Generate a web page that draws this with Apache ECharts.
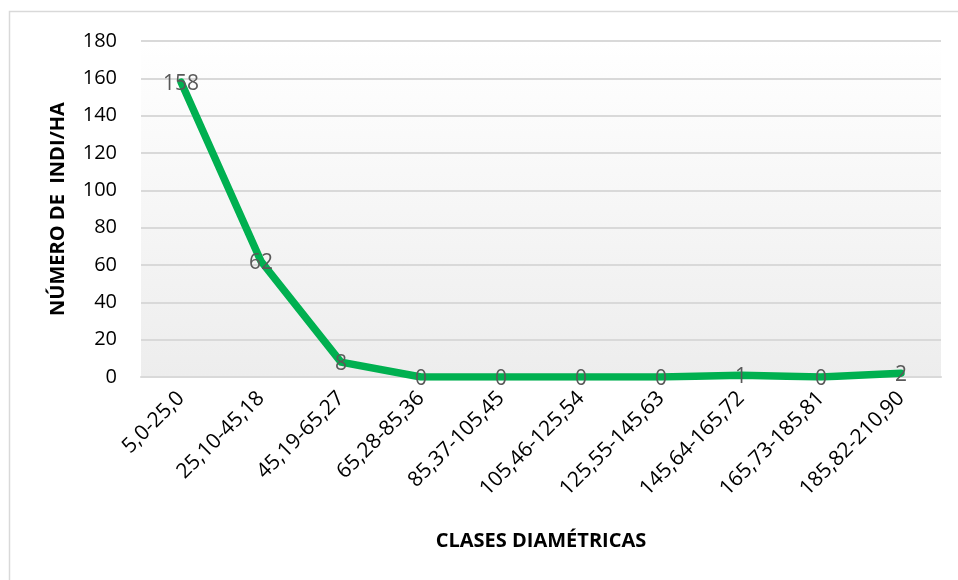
<!DOCTYPE html>
<html>
<head>
<meta charset="utf-8">
<script src="https://cdn.jsdelivr.net/npm/echarts@6/dist/echarts.min.js"></script>
<style>
  html, body { margin: 0; padding: 0; background: #ffffff; }
  #chart { width: 958px; height: 580px; }
</style>
</head>
<body>
<div id="chart"></div>
<script>
// Diameter classes (cm) and trees per hectare
const categories = ['5,0-25,0', '25,10-45,18', '45,19-65,27', '65,28-85,36', '85,37-105,45',
  '105,46-125,54', '125,55-145,63', '145,64-165,72', '165,73-185,81', '185,82-210,90'];
const individuosHa = [158, 62, 8, 0, 0, 0, 0, 1, 0, 2];
const yTicks = { min: 0, max: 180, interval: 20 };

const FONT = '"Open Sans", "Noto Sans", sans-serif';

const chart = echarts.init(document.getElementById('chart'), null, { renderer: 'canvas' });
chart.setOption({
  backgroundColor: '#ffffff',
  animation: false,
  graphic: [{
    type: 'rect',
    shape: { x: 9.5, y: 11.5, width: 960, height: 580 },
    style: { fill: 'none', stroke: '#d9d9d9', lineWidth: 1.5 },
    silent: true
  }],
  grid: {
    left: 141, right: 17, top: 41, bottom: 203,
    show: true,
    borderWidth: 0,
    backgroundColor: new echarts.graphic.LinearGradient(0, 0, 0, 1, [
      { offset: 0, color: '#ffffff' },
      { offset: 1, color: '#ededed' }
    ])
  },
  xAxis: {
    type: 'category',
    data: categories,
    boundaryGap: true,
    name: 'CLASES DIAMÉTRICAS',
    nameLocation: 'middle',
    nameGap: 154,
    nameTextStyle: { fontFamily: FONT, fontWeight: 'bold', fontSize: 20, color: '#000000' },
    axisLine: { show: true, lineStyle: { color: '#d9d9d9', width: 2 } },
    axisTick: { show: false },
    axisLabel: {
      rotate: 45, interval: 0, margin: 18,
      fontFamily: FONT, fontSize: 21, color: '#000000'
    },
    splitLine: { show: false }
  },
  yAxis: {
    type: 'value',
    min: yTicks.min, max: yTicks.max, interval: yTicks.interval,
    name: 'NÚMERO DE  INDI/HA',
    nameLocation: 'middle',
    nameGap: 73,
    nameTextStyle: { fontFamily: FONT, fontWeight: 'bold', fontSize: 20, color: '#000000' },
    axisLine: { show: false },
    axisTick: { show: false },
    axisLabel: { margin: 24, fontFamily: FONT, fontSize: 20, color: '#000000' },
    splitLine: { show: true, lineStyle: { color: '#d9d9d9', width: 2 } }
  },
  series: [{
    type: 'line',
    data: individuosHa,
    smooth: false,
    symbol: 'circle',
    symbolSize: 2,
    showSymbol: true,
    itemStyle: { color: 'rgba(0,0,0,0)' },
    lineStyle: { color: '#00b050', width: 7.5, cap: 'round', join: 'round' },
    label: {
      show: true,
      position: 'inside',
      offset: [0, 2],
      fontFamily: FONT,
      fontSize: 21,
      color: '#595959'
    },
    z: 3
  }]
});
</script>
</body>
</html>
